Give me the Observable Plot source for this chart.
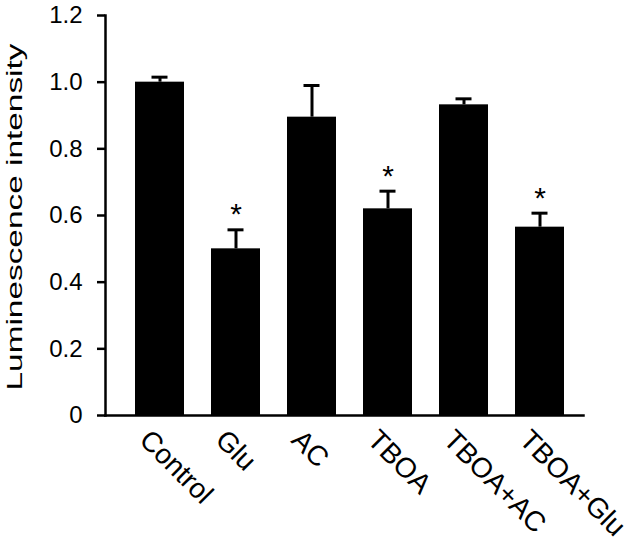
<!DOCTYPE html>
<html>
<head>
<meta charset="utf-8">
<script src="https://cdn.jsdelivr.net/npm/d3@7"></script>
<script src="https://cdn.jsdelivr.net/npm/@observablehq/plot@0.6"></script>
<style>
  html, body { margin: 0; padding: 0; background: #fff; }
</style>
</head>
<body>
<div id="chart"></div>
<script>
const categories = ["Control", "Glu", "AC", "TBOA", "TBOA+AC", "TBOA+Glu"];
const means = [1.0, 0.50, 0.895, 0.62, 0.932, 0.565];
const errors = [0.015, 0.057, 0.095, 0.053, 0.018, 0.042];
const significant = [false, true, false, true, false, true];
const yTicks = [0, 0.2, 0.4, 0.6, 0.8, 1.0, 1.2];
const yLabel = "Luminescence intensity";

const data = categories.map((c, i) => ({
  group: c, mean: means[i], err: errors[i], top: means[i] + errors[i], sig: significant[i]
}));
const sigData = data.filter(d => d.sig);

const chart = Plot.plot({
  width: 643,
  height: 549,
  marginLeft: 105,
  marginRight: 60,
  marginTop: 15,
  marginBottom: 134,
  style: { fontFamily: "'Liberation Sans', Arial, sans-serif", color: "#000", background: "#fff" },
  x: { domain: categories, range: [133, 567], paddingInner: 0.35, paddingOuter: 0, axis: null },
  y: { domain: [0, 1.2], axis: null },
  marks: [
    Plot.barY(data, { x: "group", y: "mean", fill: "#000" }),
    Plot.ruleX(data, { x: "group", y1: "mean", y2: "top", stroke: "#000", strokeWidth: 3 }),
    Plot.tickY(data, { x: "group", y: "top", stroke: "#000", strokeWidth: 3, insetLeft: 16.5, insetRight: 16.5 }),
    Plot.text(sigData, { x: "group", y: "top", text: () => "*", dy: -15, fontSize: 30, fill: "#000" }),
    Plot.frame({ anchor: "left", stroke: "#000", strokeWidth: 2.5 }),
    Plot.frame({ anchor: "bottom", stroke: "#000", strokeWidth: 2.5 }),
    Plot.axisY({
      ticks: yTicks, tickSize: 8, tickPadding: 15, strokeWidth: 2.5,
      tickFormat: d => d === 0 ? "0" : d.toFixed(1),
      fontSize: 24, fill: "#000", label: null
    }),
    // rotated category labels
    Plot.text(categories, {
      x: d => d, y: () => 0, text: d => d, rotate: 45,
      textAnchor: "start", lineAnchor: "top", fontSize: 28, fill: "#000",
      dx: -8, dy: 12
    }),
    // y-axis title
    Plot.text([yLabel], {
      frameAnchor: "left", text: d => d, rotate: -90, textAnchor: "middle",
      lineAnchor: "middle", fontSize: 22, fill: "#000", dx: -90.5, dy: 1.5,
      className: "ytitle"
    })
  ]
});
// stretch the y title lengthwise as in the reference artwork
d3.select(chart).selectAll("g.ytitle text")
  .attr("textLength", 347)
  .attr("lengthAdjust", "spacingAndGlyphs");
document.getElementById("chart").appendChild(chart);
</script>
</body>
</html>
